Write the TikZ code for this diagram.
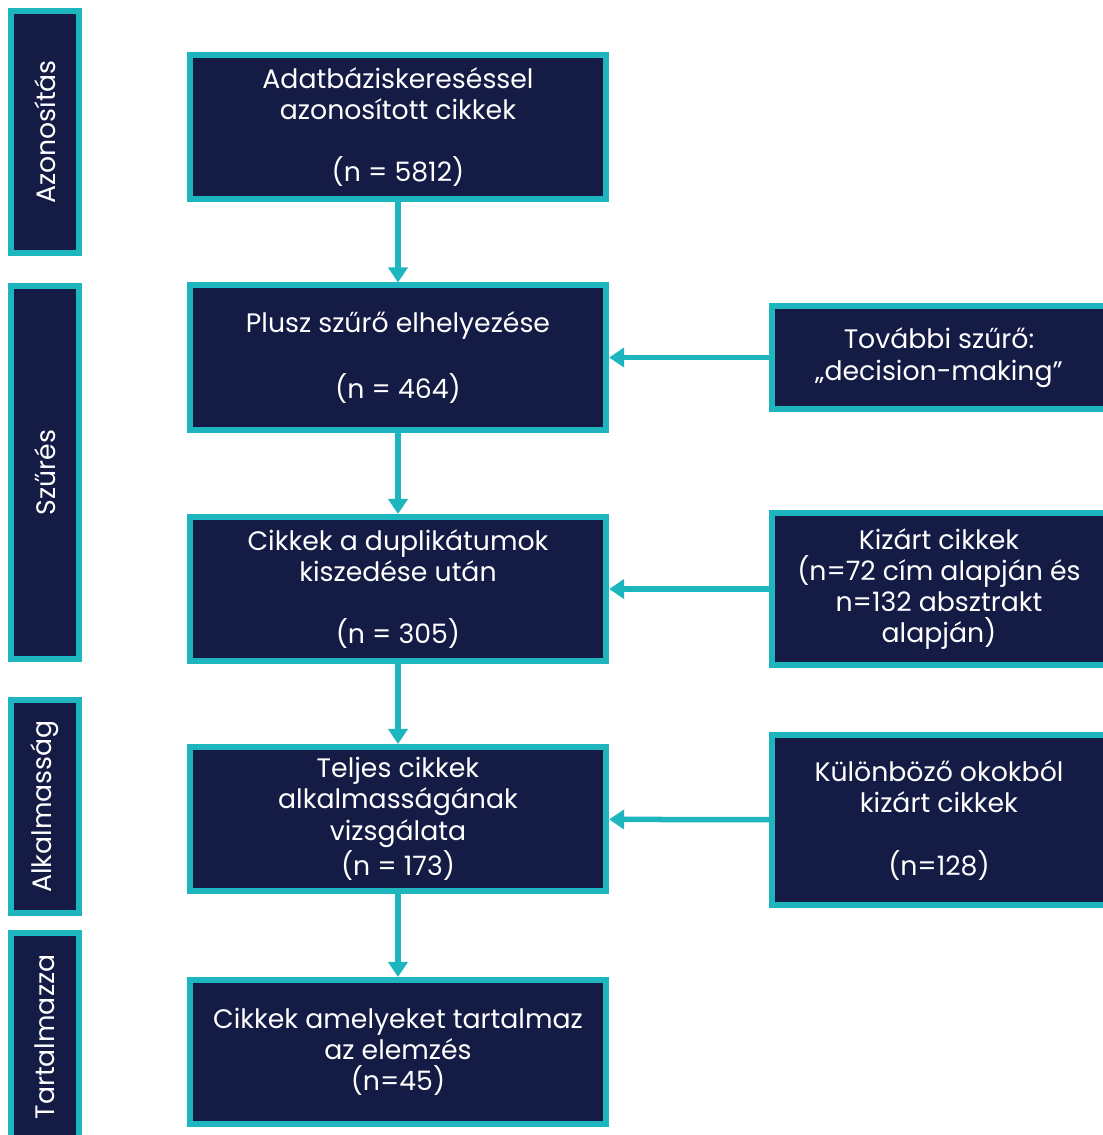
\documentclass[tikz,border=0pt]{standalone}
\usepackage{fontspec}
\setmainfont[Numbers=Proportional]{Poppins}
\usetikzlibrary{arrows.meta}
\definecolor{navybox}{HTML}{141B45}
\definecolor{tealline}{HTML}{1DB6BE}

\begin{document}
\begin{tikzpicture}[x=0.01cm,y=-0.01cm,
	box/.style={draw=tealline,fill=navybox,line width=0.06cm,text=white,align=center,inner sep=0pt,font=\fontsize{7.6}{8.9}\selectfont},
	mainbox/.style={box,minimum width=4.16cm,minimum height=1.44cm},
	sidebox/.style={box,minimum width=3.34cm},
	phase/.style={box,minimum height=0.68cm,rotate=90},
	link/.style={draw=tealline,line width=0.055cm,-{Triangle[length=0.15cm,width=0.19cm]}}]

	\clip (0,0) rectangle (1103,1135);

	% phases on the left
	\node[phase,minimum width=2.42cm] (pid) at (45,132) {Azonosítás};
	\node[phase,minimum width=3.73cm] (pscr) at (45,472.5) {Szűrés};
	\node[phase,minimum width=2.13cm] (pel) at (45,806.5) {Alkalmasság};
	\node[phase,minimum width=2.08cm] (pinc) at (45,1037) {Tartalmazza};

	% main column
	\node[mainbox] (found) at (398,127) {Adatbáziskereséssel\\azonosított cikkek\\[8.9pt](n = 5812)};
	\node[mainbox] (filter) at (398,357.5) {Plusz szűrő elhelyezése\\[8.9pt](n = 464)};
	\node[mainbox] (dedup) at (398,589) {Cikkek a duplikátumok\\kiszedése után\\[8.9pt](n = 305)};
	\node[mainbox] (full) at (398,819) {Teljes cikkek\\alkalmasságának\\vizsgálata\\(n = 173)};
	\node[mainbox] (incl) at (398,1052) {Cikkek amelyeket tartalmaz\\az elemzés\\(n=45)};

	% side column
	\node[sidebox,minimum height=1.03cm] (extra) at (939,357.5) {További szűrő:\\„decision-making”};
	\node[sidebox,minimum height=1.52cm] (excl) at (939,589) {Kizárt cikkek\\(n=72 cím alapján és\\n=132 absztrakt\\alapján)};
	\node[sidebox,minimum height=1.70cm] (other) at (939,820) {Különböző okokból\\kizárt cikkek\\[8.9pt](n=128)};

	% arrows
	\draw[link] (found) -- (filter);
	\draw[link] (filter) -- (dedup);
	\draw[link] (dedup) -- (full);
	\draw[link] (full) -- (incl);
	\draw[link] (extra) -- (filter);
	\draw[link] (excl) -- (dedup);
	\draw[link] (other) -- (full);

\end{tikzpicture}
\end{document}
